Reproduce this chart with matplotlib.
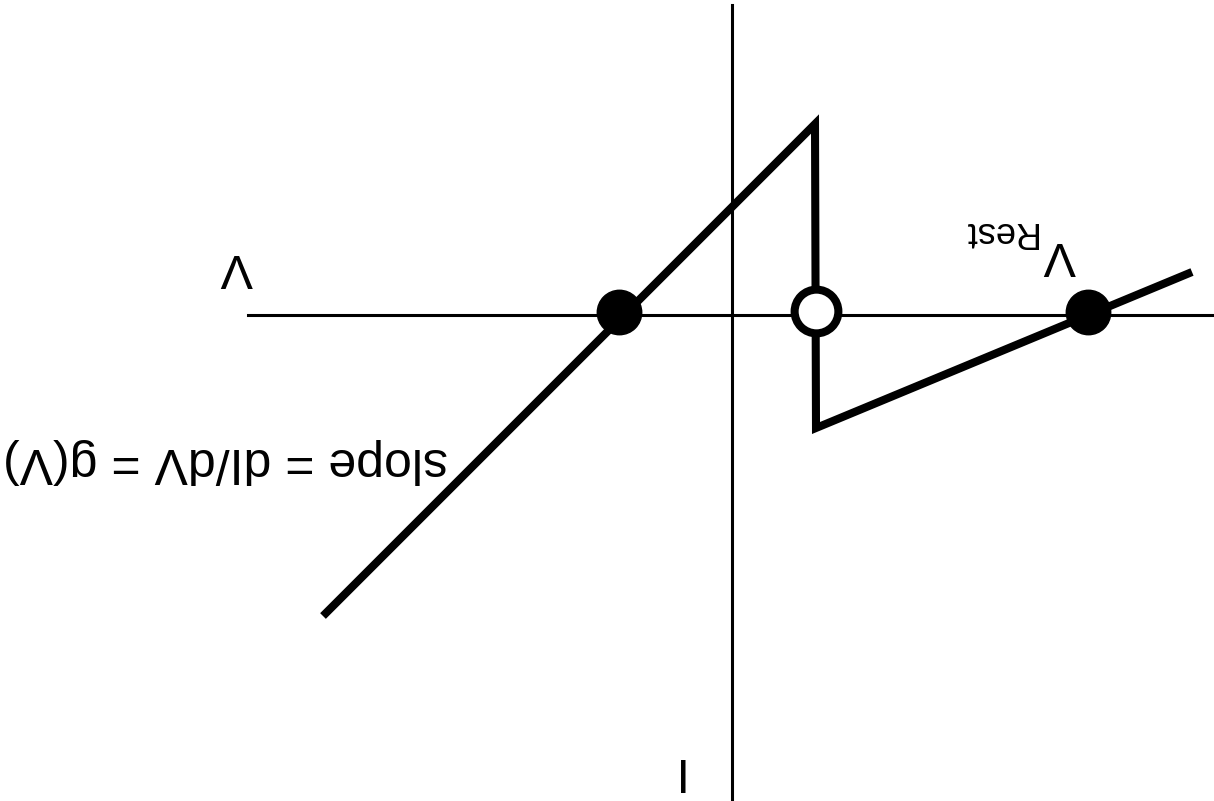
import matplotlib
matplotlib.use("Agg")
import matplotlib.pyplot as plt

# natural (upright) coordinates, units of 10 px; the picture is shown rotated 180 deg
curve_V = [40.9, -8.3, -8.4, -46.0]
curve_I = [30.1, -19.1, 11.3, -4.3]

stable_V = [11.3, -35.6]
stable_I = [-0.3, -0.3]
unstable_V = [-8.4]
unstable_I = [-0.4]

v_axis = [48.4, -48.0]
i_axis = [-31.0, 48.5]

plt.rcParams['font.family'] = ['Liberation Sans', 'DejaVu Sans']

fig = plt.figure(figsize=(12.14, 8.01), dpi=100)
ax = fig.add_axes([0, 0, 1, 1])
ax.set_xlim(73.2, -48.2)
ax.set_ylim(48.6, -31.5)
ax.axis('off')

ax.plot(v_axis, [0, 0], color='black', lw=2.2)
ax.plot([0, 0], i_axis, color='black', lw=2.2)

ax.plot(curve_V, curve_I, color='black', lw=5.8, solid_joinstyle='miter', solid_capstyle='butt')
ax.plot(stable_V, stable_I, 'o', color='black', ms=32, zorder=5)
ax.plot(unstable_V, unstable_I, 'o', mfc='white', mec='black', mew=5.8, ms=31.5, zorder=5)

ax.text(49.5, -4.8, 'V', fontsize=35, rotation=180, ha='center', va='center')
ax.text(5.7, 45.5, 'I', fontsize=35, rotation=180, ha='center', va='center')
ax.text(-32.8, -6.0, 'V', fontsize=35, rotation=180, ha='center', va='center')
ax.text(-26.7, -8.4, 'Rest', fontsize=26, rotation=180, ha='center', va='center')
ax.text(50.6, 14.6, 'slope = dI/dV = g(V)', fontsize=36, rotation=180, ha='center', va='center')

fig.savefig('out.png', dpi=100)
